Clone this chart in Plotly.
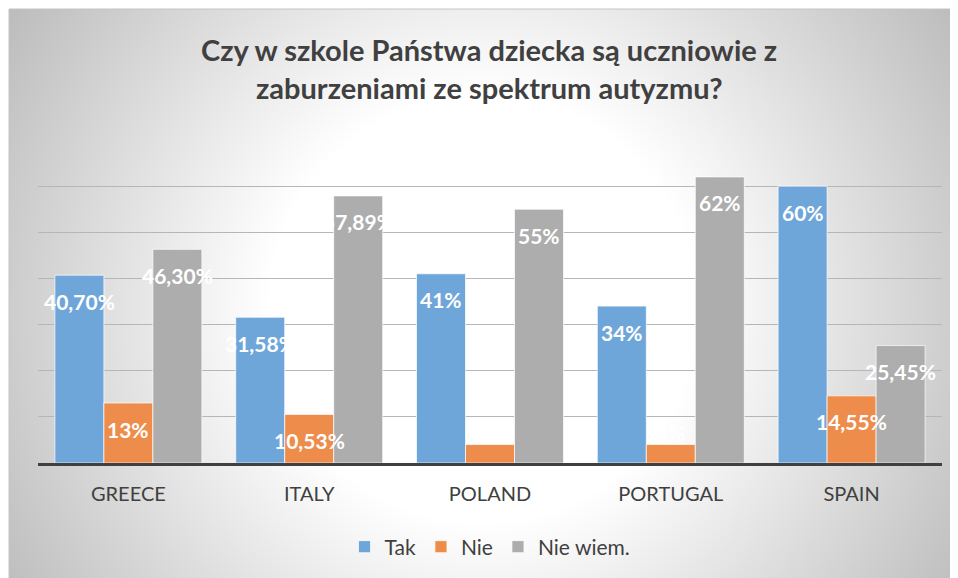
import base64
import plotly.graph_objects as go

countries = ["GREECE", "ITALY", "POLAND", "PORTUGAL", "SPAIN"]
series_names = ["Tak", "Nie", "Nie wiem."]
tak = [40.70, 31.58, 41, 34, 60]
nie = [13, 10.53, 4, 4, 14.55]
nie_wiem = [46.30, 57.89, 55, 62, 25.45]
tak_labels = ["40,70%", "31,58%", "41%", "34%", "60%"]
nie_labels = ["13%", "10,53%", "4%", "4%", "14,55%"]
nie_wiem_labels = ["46,30%", "57,89%", "55%", "62%", "25,45%"]
colors = ["#6fa6da", "#ee8c4b", "#adadad"]

title_lines = ["Czy w szkole Państwa dziecka są uczniowie z",
               "zaburzeniami ze spektrum autyzmu?"]

# page has an 8px body margin, so the figure is 950x570 and page coords = fig + 8
OFF = 8
W, H = 950, 570
L, R, T, B = 30, 16, 132, 115
PW, PH = W - L - R, H - T - B
BARGAP = 0.187
FONT = "Lato"


def px_x(x):  # x in page pixels
    return (x - OFF - L) / PW


def px_y(y):  # y in page pixels
    return (H - B - (y - OFF)) / PH


fig = go.Figure()
all_vals = [tak, nie, nie_wiem]
all_labels = [tak_labels, nie_labels, nie_wiem_labels]
for name, vals, col in zip(series_names, all_vals, colors):
    fig.add_trace(go.Bar(
        x=countries, y=vals, name=name,
        marker=dict(color=col, line=dict(color="rgba(255,255,255,0.7)", width=1)),
        hoverinfo="x+y+name",
    ))

# data labels (inside end, white bold)
bw = (1 - BARGAP) / 3
for si, (vals, labs) in enumerate(zip(all_vals, all_labels)):
    off = (si - 1) * bw
    for ci, (v, lab) in enumerate(zip(vals, labs)):
        shift = -26 if v > 8 else 12
        fig.add_annotation(
            x=ci + off, y=v, xref="x", yref="y", text=f"<b>{lab}</b>",
            showarrow=False, yshift=shift, yanchor="middle", xanchor="center",
            font=dict(family=FONT, size=21, color="#ffffff"),
        )

# title lines
for i, line in enumerate(title_lines):
    fig.add_annotation(
        x=px_x(489), y=px_y([50, 88][i]), xref="paper", yref="paper",
        text=f"<b>{line}</b>", showarrow=False, xanchor="center", yanchor="middle",
        font=dict(family=FONT, size=29, color="#404040"),
    )

# radial gradient background for the chart area
cw, ch = W - 1, H - 1
svg = (
    f'<svg xmlns="http://www.w3.org/2000/svg" width="{cw}" height="{ch}" '
    f'viewBox="0 0 {cw} {ch}" preserveAspectRatio="none">'
    f'<defs><radialGradient id="g" gradientUnits="userSpaceOnUse" cx="{cw/2:.0f}" cy="{ch/2 + 15:.0f}" r="560">'
    '<stop offset="0" stop-color="#ffffff"/><stop offset="0.38" stop-color="#ffffff"/>'
    '<stop offset="1" stop-color="#bcbcbc"/></radialGradient></defs>'
    f'<rect x="0" y="0" width="{cw}" height="{ch}" fill="url(#g)"/></svg>'
)
src = "data:image/svg+xml;base64," + base64.b64encode(svg.encode()).decode()
fig.add_layout_image(dict(
    source=src, xref="paper", yref="paper",
    x=px_x(9), y=px_y(9), sizex=px_x(W + OFF) - px_x(9), sizey=px_y(9) - px_y(H + OFF),
    xanchor="left", yanchor="top", sizing="stretch", layer="below",
))
fig.add_shape(type="rect", xref="paper", yref="paper",
              x0=px_x(9), x1=px_x(W + OFF + 2), y0=px_y(H + OFF + 2), y1=px_y(9),
              line=dict(color="#c4c4c4", width=1), layer="below")

fig.update_layout(
    width=W, height=H,
    margin=dict(l=L, r=R, t=T, b=B, autoexpand=False),
    paper_bgcolor="#ffffff", plot_bgcolor="rgba(0,0,0,0)",
    barmode="group", bargap=BARGAP, bargroupgap=0,
    font=dict(family=FONT, color="#404040"),
    legend=dict(orientation="h", x=px_x(490), xanchor="center", y=px_y(547), yanchor="middle",
                font=dict(family=FONT, size=21, color="#404040"),
                bgcolor="rgba(0,0,0,0)", itemwidth=30, traceorder="normal"),
    showlegend=True,
)
fig.update_xaxes(
    showline=True, linecolor="#404040", linewidth=3,
    showgrid=False, ticks="", tickfont=dict(family=FONT, size=20, color="#404040"),
    ticklabelstandoff=11,
)
fig.update_yaxes(
    range=[0, 70], dtick=10, showgrid=True, gridcolor="#b6b6b6", gridwidth=1,
    showticklabels=False, zeroline=False, showline=False,
)

fig.write_html("out.html")
